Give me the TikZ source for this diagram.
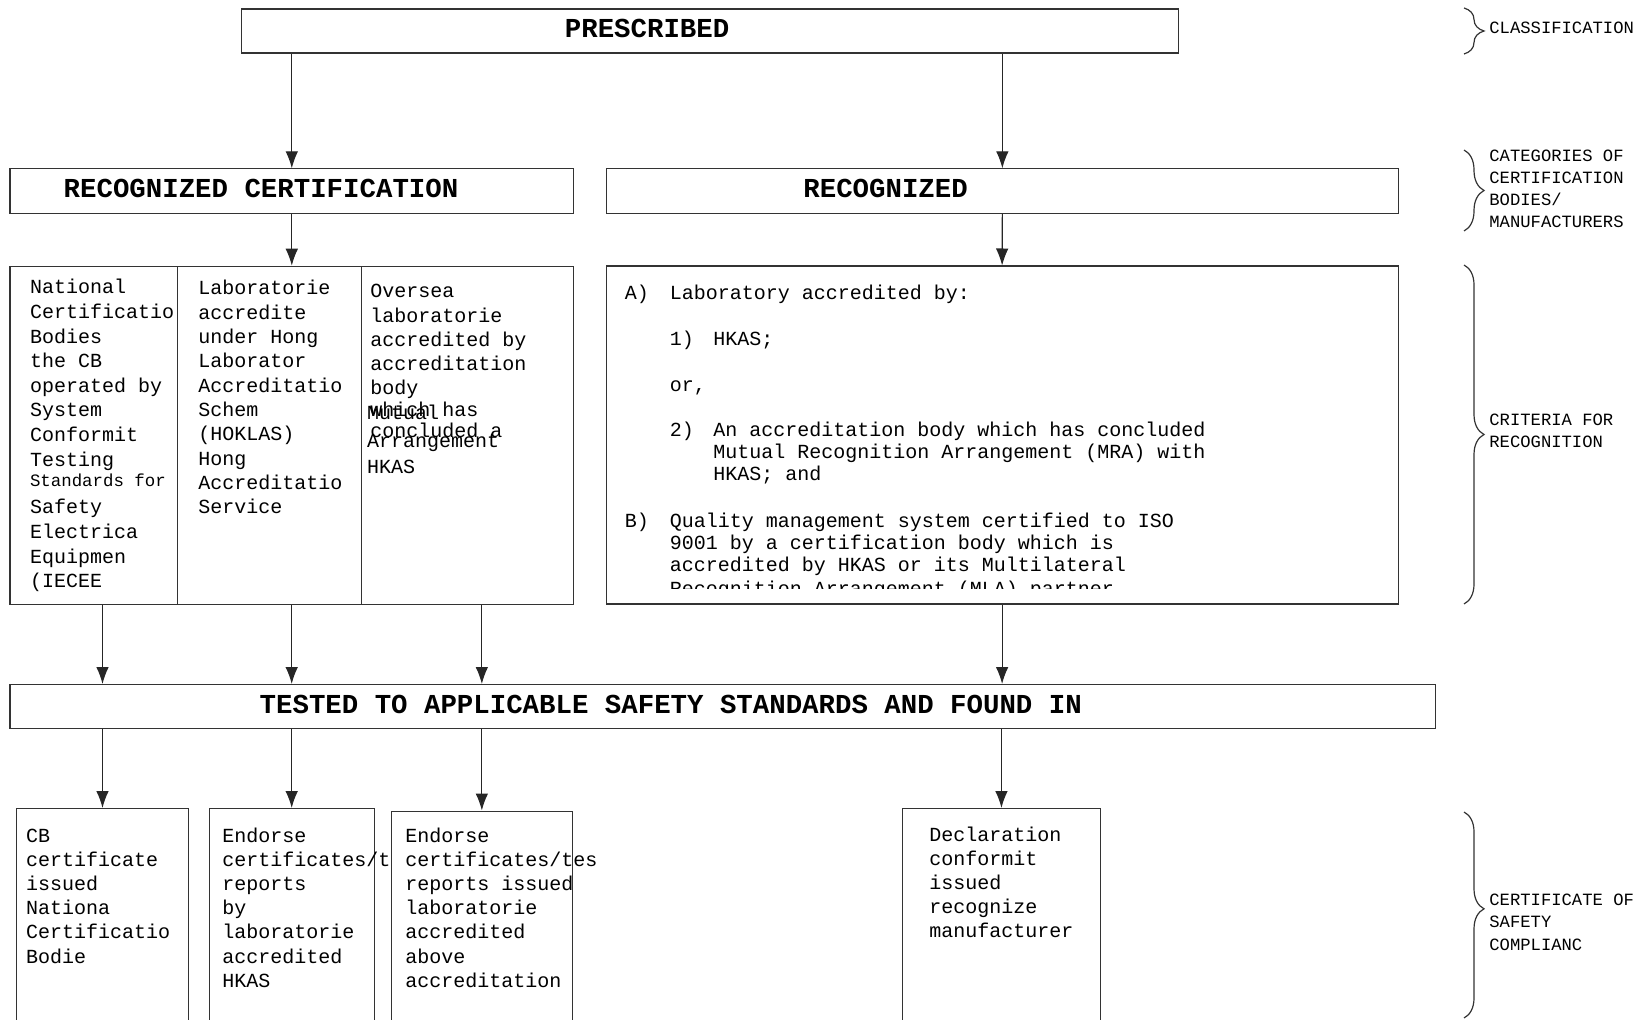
\documentclass[tikz,border=0pt]{standalone}
\usepackage{fontspec}
\setmonofont{Liberation Mono}
\usepackage{tikz}
\usetikzlibrary{arrows.meta, decorations.pathreplacing}

\begin{document}
\begin{tikzpicture}[x=0.5pt, y=-0.5pt,
    >={Latex[length=8.5pt, width=6.3pt]},
    box/.style={draw=black!80, line width=0.6pt, inner sep=0pt, anchor=north west},
    arr/.style={->, draw=black!85, line width=0.6pt},
    head/.style={font=\ttfamily\bfseries\fontsize{13.7}{16}\selectfont, anchor=base west, inner sep=0pt},
    txt/.style={font=\ttfamily\fontsize{10}{12}\selectfont, anchor=base west, inner sep=0pt},
    smalltxt/.style={txt, font=\ttfamily\fontsize{8.7}{10}\selectfont},
    side/.style={font=\ttfamily\fontsize{8.6}{10}\selectfont, anchor=base west, inner sep=0pt},
    sidebrace/.style={draw=black!80, line width=0.6pt, decorate, decoration={brace, amplitude=10pt}}]

    \useasboundingbox (0,0) rectangle (1642,1020);

    % 1. Khung chính
    \node[box, minimum width=468.55pt, minimum height=22.05pt] (pres) at (241,8.4) {};
    \node[box, minimum width=281.8pt, minimum height=22.2pt] (rc) at (9.4,168.3) {};
    \node[box, minimum width=396.25pt, minimum height=22.2pt] (rg) at (605.5,168.3) {};
    \node[box, minimum width=83.55pt, minimum height=169.3pt] (col1) at (9.4,265.7) {};
    \node[box, minimum width=92.25pt, minimum height=169.3pt] (col2) at (176.5,265.7) {};
    \node[box, minimum width=106pt, minimum height=169.3pt] (col3) at (361,265.7) {};
    \node[box, minimum width=396pt, minimum height=169pt] (crit) at (605.5,265.5) {};
    \node[box, minimum width=712.8pt, minimum height=21.85pt] (tested) at (9.4,684) {};
    \node[box, minimum width=86.1pt, minimum height=120pt] (cb) at (15.8,808) {};
    \node[box, minimum width=82.4pt, minimum height=120pt] (en1) at (208.7,808) {};
    \node[box, minimum width=90.75pt, minimum height=120pt] (en2) at (390.5,810.5) {};
    \node[box, minimum width=99.15pt, minimum height=120pt] (decl) at (901.7,808) {};

    % 2. Tiêu đề
    \node[head] (presT) at (564.5,37.5) {PRESCRIBED};
    \node[head] (rcT) at (63.3,197.5) {RECOGNIZED CERTIFICATION};
    \node[head] (rgT) at (803,197.5) {RECOGNIZED};
    \node[head] (testedT) at (259.3,713) {TESTED TO APPLICABLE SAFETY STANDARDS AND FOUND IN};

    % 3. Cột bên trái
    \foreach \line [count=\i] in {National,Certificatio,Bodies,the CB,operated by,System,Conformit,Testing}
        \node[txt] (ncb\i) at (29.6,{294+24.6*(\i-1)}) {\line};
    \node[smalltxt] (ncb9) at (29.6,487) {Standards for};
    \foreach \line [count=\i from 10] in {Safety,Electrica,Equipmen,{(IECEE}}
        \node[txt] (ncb\i) at (29.6,{514+24.6*(\i-10)}) {\line};

    \foreach \line [count=\i] in {Laboratorie,accredite,under Hong,Laborator,Accreditatio,Schem,{(HOKLAS)},Hong,Accreditatio,Service}
        \node[txt] (lab\i) at (198,{295+24.3*(\i-1)}) {\line};

    \foreach \line [count=\i] in {Oversea,laboratorie,accredited by,accreditation,body}
        \node[txt] (ovs\i) at (370,{298+24.25*(\i-1)}) {\line};
    \node[txt] (ovs6) at (370,417) {which has};
    \node[txt] (ovs7) at (370,438) {concluded a};
    \node[txt] (mra1) at (366.7,420) {Mutual};
    \node[txt] (mra2) at (366.7,448) {Arrangement};
    \node[txt] (mra3) at (366.7,474) {HKAS};

    % 4. Tiêu chí bên phải
    \node[txt] (ra) at (624.5,300) {A)};
    \node[txt] (raT) at (669.4,300) {Laboratory accredited by:};
    \node[txt] (r1) at (669.4,346) {1)};
    \node[txt] (r1T) at (713,346) {HKAS;};
    \node[txt] (ror) at (669.4,392) {or,};
    \node[txt] (r2) at (669.4,437) {2)};
    \foreach \line [count=\i] in {An accreditation body which has concluded,Mutual Recognition Arrangement (MRA) with,HKAS; and}
        \node[txt] (r2T\i) at (713,{437+22*(\i-1)}) {\line};
    \node[txt] (rb) at (624.5,528) {B)};
    \foreach \line [count=\i] in {Quality management system certified to ISO,9001 by a certification body which is,accredited by HKAS or its Multilateral}
        \node[txt] (rbT\i) at (669.4,{528+22*(\i-1)}) {\line};
    \begin{scope}
        \clip (605.5,560) rectangle (1397.5,588.5);
        \node[txt] (rbT4) at (669.4,596) {Recognition Arrangement (MLA) partner};
    \end{scope}

    % 5. Chứng nhận
    \foreach \line [count=\i] in {CB,certificate,issued,Nationa,Certificatio,Bodie}
        \node[txt] (cbT\i) at (25.7,{842+24.2*(\i-1)}) {\line};
    \foreach \line [count=\i] in {Endorse,certificates/t,reports,by,laboratorie,accredited,HKAS}
        \node[txt] (enA\i) at (222,{842+24.2*(\i-1)}) {\line};
    \foreach \line [count=\i] in {Endorse,certificates/tes,reports issued,laboratorie,accredited,above,accreditation}
        \node[txt] (enB\i) at (405,{842+24.2*(\i-1)}) {\line};
    \foreach \line [count=\i] in {Declaration,conformit,issued,recognize,manufacturer}
        \node[txt] (declT\i) at (929,{841+24.2*(\i-1)}) {\line};

    % 6. Mũi tên
    \draw[arr] (pres.south -| rc.north) -- (rc.north);
    \draw[arr] (pres.south -| rg.north) -- (rg.north);
    \draw[arr] (rc.south) -- (rc.south |- col2.north);
    \draw[arr] (rg.south) -- (crit.north);
    \foreach \b/\c in {cb/col1,en1/col2,en2/col3}
        \draw[arr] (\c.south -| \b.north) -- (tested.north -| \b.north);
    \draw[arr] (crit.south) -- (crit.south |- tested.north);
    \foreach \b in {cb,en1,en2,decl}
        \draw[arr] (tested.south -| \b.north) -- (\b.north);

    % 7. Ngoặc bên phải
    \draw[sidebrace] (1464,8) -- (1464,54);
    \draw[sidebrace] (1464,150) -- (1464,231);
    \draw[sidebrace] (1464,265) -- (1464,604);
    \draw[sidebrace, decoration={brace, amplitude=10pt, aspect=0.47}] (1464,812) -- (1464,1018);

    \node[side] (clsT) at (1489,34) {CLASSIFICATION};
    \foreach \line [count=\i] in {CATEGORIES OF,CERTIFICATION,BODIES/,MANUFACTURERS}
        \node[side] (catT\i) at (1489,{162+21.7*(\i-1)}) {\line};
    \node[side] (criT1) at (1489,426) {CRITERIA FOR};
    \node[side] (criT2) at (1489,448) {RECOGNITION};
    \foreach \line [count=\i] in {CERTIFICATE OF,SAFETY,COMPLIANC}
        \node[side] (cosT\i) at (1489,{905+22.5*(\i-1)}) {\line};

\end{tikzpicture}
\end{document}
